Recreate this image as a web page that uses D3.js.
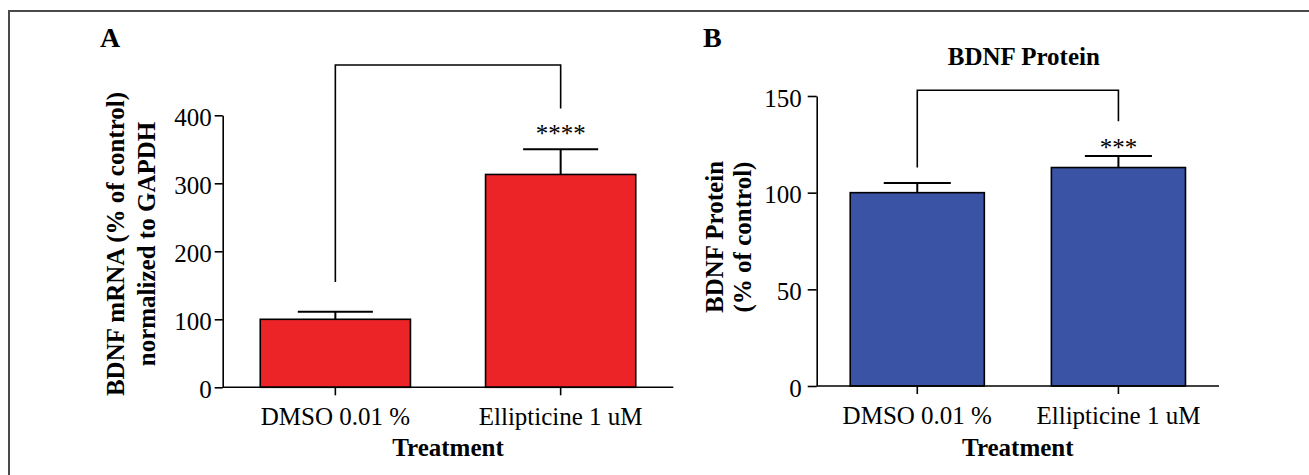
<!DOCTYPE html>
<html>
<head>
<meta charset="utf-8">
<script src="https://cdn.jsdelivr.net/npm/d3@7"></script>
<style>
  html, body { margin: 0; padding: 0; background: #fff; }
  svg { display: block; }
  text { font-family: "Liberation Serif", "Times New Roman", serif; fill: #000; }
</style>
</head>
<body>
<svg id="chart" width="1309" height="475"></svg>
<script>
// ---------- data ----------
const categories = ["DMSO 0.01 %", "Ellipticine 1 uM"];

// Panel A: BDNF mRNA (% of control) normalized to GAPDH
const mrnaMean = [100, 313];
const mrnaUpper = [111, 350];          // mean + error
const mrnaTicks = [0, 100, 200, 300, 400];
const mrnaBracket = [155, 474, 410];   // left leg end, top, right leg end (data units)
const mrnaSig = "****";
const mrnaSigLevel = 381;

// Panel B: BDNF Protein (% of control)
const protMean = [100, 113];
const protUpper = [105, 119];
const protTicks = [0, 50, 100, 150];
const protBracket = [113, 153, 137];
const protSig = "***";
const protSigLevel = 126;

const svg = d3.select("#chart");

// frame (only top and left edges visible in the reference)
svg.append("rect")
  .attr("x", 9).attr("y", 11).attr("width", 1400).attr("height", 600)
  .attr("fill", "none").attr("stroke", "#4a4a4a").attr("stroke-width", 2);

function panel(cfg) {
  const g = svg.append("g");
  const x = d3.scaleBand().domain(categories).range(cfg.xRange)
    .paddingInner(1/3).paddingOuter(1/6);
  const y = d3.scaleLinear().domain(cfg.yDomain).range(cfg.yRange);

  // bars
  g.selectAll("rect.bar").data(cfg.mean).join("rect")
    .attr("class", "bar")
    .attr("x", (d, i) => x(categories[i]))
    .attr("width", x.bandwidth())
    .attr("y", d => y(d))
    .attr("height", d => y(0) - y(d))
    .attr("fill", cfg.color)
    .attr("stroke", "#000").attr("stroke-width", 1.6);

  // error bars (upper)
  const cx = i => x(categories[i]) + x.bandwidth() / 2;
  g.selectAll("line.err").data(cfg.upper).join("line")
    .attr("x1", (d, i) => cx(i)).attr("x2", (d, i) => cx(i))
    .attr("y1", (d, i) => y(cfg.mean[i])).attr("y2", d => y(d))
    .attr("stroke", "#000").attr("stroke-width", 2);
  g.selectAll("line.cap").data(cfg.upper).join("line")
    .attr("x1", (d, i) => cx(i) - x.bandwidth() / 4)
    .attr("x2", (d, i) => cx(i) + x.bandwidth() / 4)
    .attr("y1", d => y(d)).attr("y2", d => y(d))
    .attr("stroke", "#000").attr("stroke-width", 2);

  // y axis
  const ya = g.append("g")
    .attr("transform", `translate(${cfg.xRange[0]},0)`)
    .call(d3.axisLeft(y).tickValues(cfg.ticks).tickSize(cfg.yTickSize)
      .tickSizeOuter(0).tickPadding(cfg.yTickPad));
  ya.selectAll("path,line").attr("stroke", "#000").attr("stroke-width", 1.6);
  ya.selectAll("text").attr("font-size", 25).attr("dy", "0.4em")
    .style("font-family", '"Liberation Serif", serif');

  // x axis
  const xa = g.append("g")
    .attr("transform", `translate(0,${y(0)})`)
    .call(d3.axisBottom(x).tickSize(8).tickSizeOuter(0).tickPadding(12));
  xa.select("path.domain").attr("d", `M${cfg.xRange[0]},0H${cfg.xRange[1]}`);
  xa.selectAll("path,line").attr("stroke", "#000").attr("stroke-width", 1.6);
  xa.selectAll("text").attr("font-size", 25)
    .style("font-family", '"Liberation Serif", serif');

  // x axis title
  g.append("text")
    .attr("x", (cfg.xRange[0] + cfg.xRange[1]) / 2).attr("y", 456)
    .attr("text-anchor", "middle").attr("font-size", 25).attr("font-weight", "bold")
    .text("Treatment");

  // y axis title (two lines)
  cfg.yTitle.forEach((t, k) => {
    g.append("text")
      .attr("transform", `translate(${cfg.yTitleX[k]},${cfg.yTitleY}) rotate(-90)`)
      .attr("text-anchor", "middle").attr("font-size", 25).attr("font-weight", "bold")
      .text(t);
  });

  // significance bracket
  const [lEnd, top, rEnd] = cfg.bracket;
  g.append("path")
    .attr("d", `M${cx(0)},${y(lEnd)}V${y(top)}H${cx(1)}V${y(rEnd)}`)
    .attr("fill", "none").attr("stroke", "#000").attr("stroke-width", 1.6);
  g.append("text")
    .attr("x", cx(1)).attr("y", y(cfg.sigLevel))
    .attr("dy", "0.55em")
    .attr("text-anchor", "middle").attr("font-size", 25).attr("fill", "#222")
    .text(cfg.sig);

  // panel letter
  g.append("text").attr("x", cfg.letterX).attr("y", 47)
    .attr("font-size", 28).attr("font-weight", "bold").text(cfg.letter);

  if (cfg.title) {
    g.append("text").attr("x", (cfg.xRange[0] + cfg.xRange[1]) / 2 + 6).attr("y", 65)
      .attr("text-anchor", "middle").attr("font-size", 25).attr("font-weight", "bold")
      .text(cfg.title);
  }
}

panel({
  xRange: [222.7, 673.3], yDomain: [0, 400], yRange: [387.3, 115.3],
  mean: mrnaMean, upper: mrnaUpper, ticks: mrnaTicks, color: "#ED2427",
  yTickSize: 8, yTickPad: 3,
  yTitle: ["BDNF mRNA (% of control)", "normalized to GAPDH"],
  yTitleX: [124, 155], yTitleY: 244,
  bracket: mrnaBracket, sig: mrnaSig, sigLevel: mrnaSigLevel,
  letter: "A", letterX: 100
});

panel({
  xRange: [816.7, 1219], yDomain: [0, 150], yRange: [386, 96],
  mean: protMean, upper: protUpper, ticks: protTicks, color: "#3A53A4",
  yTickSize: 9, yTickPad: 6,
  yTitle: ["BDNF Protein", "(% of control)"],
  yTitleX: [723, 751], yTitleY: 237,
  bracket: protBracket, sig: protSig, sigLevel: protSigLevel,
  letter: "B", letterX: 703,
  title: "BDNF Protein"
});
</script>
</body>
</html>
